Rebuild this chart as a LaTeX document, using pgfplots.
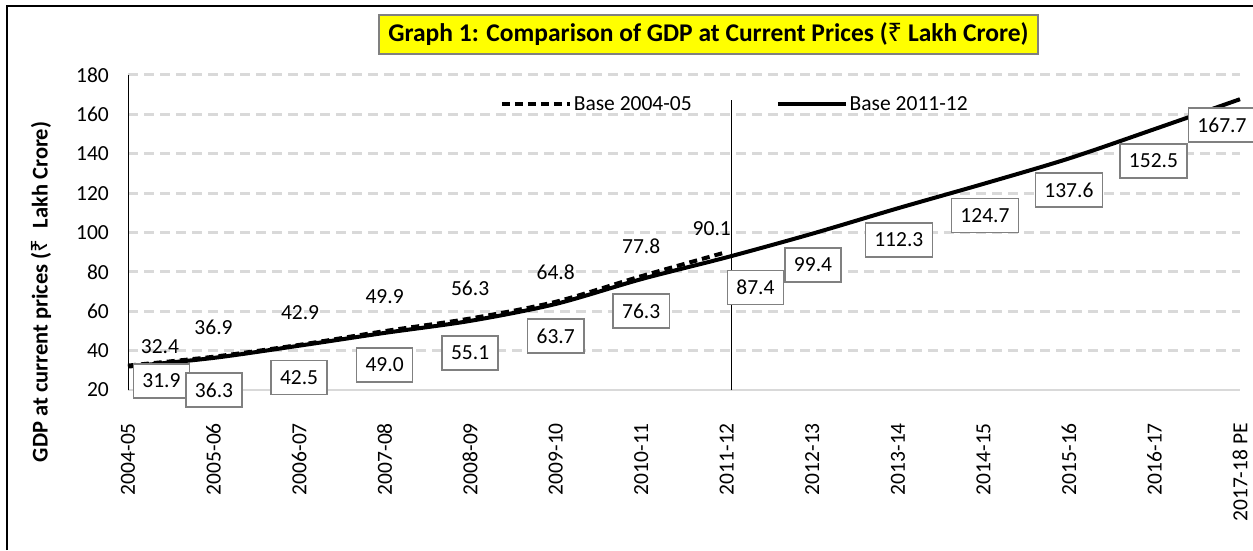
\documentclass[border=0pt]{standalone}
\usepackage{fontspec}
\setmainfont{Carlito}
\newfontfamily\rupeefont{Noto Sans}
\newcommand\rupee{{\rupeefont ₹}}
\usepackage{pgfplots}
\usepackage{pgfplotstable}
\pgfplotsset{compat=1.18}
\definecolor{gridgray}{HTML}{D9D9D9}
\definecolor{boxgray}{HTML}{808080}
\definecolor{titleyellow}{HTML}{FFFF00}
\newcommand\lblfont{\fontsize{21.5}{25}\selectfont}

\pgfplotstableread{
x y lbl dx dy
0 32.4 32.4 32 18.6
1 36.9 36.9 0 29.7
2 42.9 42.9 1 32
3 49.9 49.9 0 35
4 56.3 56.3 0 30.5
5 64.8 64.8 0 29.8
6 77.8 77.8 0 30
7 90.1 90.1 -15 23
}\olddata

\pgfplotstableread{
x y lbl dx dy
0 31.9 31.9 33.5 -14.4
1 36.3 36.3 0.5 -32.1
2 42.5 42.5 0 -31.8
3 49.0 49.0 0 -32.1
4 55.1 55.1 0 -32.1
5 63.7 63.7 0 -32
6 76.3 76.3 0 -31.9
7 87.4 87.4 28.7 -30.2
8 99.4 99.4 0.7 -31.3
9 112.3 112.3 1 -31.7
10 124.7 124.7 1.6 -31.7
11 137.6 137.6 0 -31.6
12 152.5 152.5 -1 -31.9
13 167.7 167.7 -18 -25.8
}\newdata

\begin{document}
\begin{tikzpicture}[x=1pt,y=1pt]
\useasboundingbox (0,0) rectangle (1253,550);
\fill[white] (0,0) rectangle (1253,550);
\draw[line width=1.8pt, black] (7,0) -- (7,544.3) -- (1253.5,544.3);
\begin{axis}[
  at={(128pt,160pt)}, anchor=south west,
  scale only axis, width=1112pt, height=315pt,
  xmin=0, xmax=13, ymin=20, ymax=180,
  xtick={0,...,13},
  xticklabels={2004-05,2005-06,2006-07,2007-08,2008-09,2009-10,2010-11,2011-12,2012-13,2013-14,2014-15,2015-16,2016-17,2017-18 PE},
  xticklabel style={rotate=90, anchor=east, inner sep=0pt, font=\lblfont},
  xticklabel shift=33pt,
  ytick={40,60,...,180},
  extra y ticks={20},
  extra y tick style={grid=none},
  yticklabel style={anchor=east, inner sep=0pt, font=\lblfont},
  yticklabel shift=19pt,
  /pgf/number format/assume math mode=true,
  ymajorgrids,
  grid style={dash pattern=on 10pt off 6pt, line width=3pt, color=gridgray},
  axis x line*=bottom, axis y line*=left,
  x axis line style={-, gridgray, line width=2pt},
  y axis line style={-, black, line width=1pt},
  major tick length=0pt,
  clip=false,
  legend columns=2,
  legend style={draw=none, fill=none, at={(0.3315,0.908)}, anchor=west,
    font=\lblfont,
    /tikz/every even column/.append style={column sep=82pt}},
  legend image code/.code={\draw[#1] (0pt,0pt) -- (68pt,0pt);},
]
\addlegendimage{black, line width=4pt, dash pattern=on 8pt off 5pt}
\addlegendentry{Base 2004-05}
\addlegendimage{black, line width=4pt}
\addlegendentry{Base 2011-12}

% separator line
\addplot[black, line width=1pt, forget plot] coordinates {(7.05,20) (7.05,167.3)};

% series lines
\addplot[black, line width=4pt, smooth, tension=0.5, forget plot] table[x=x,y=y] {\newdata};
\addplot[black, line width=4pt, smooth, tension=0.5, dash pattern=on 8pt off 5pt, forget plot] table[x=x,y=y] {\olddata};

% labels
\addplot[draw=none, mark=none, forget plot,
  point meta=explicit symbolic,
  visualization depends on={\thisrow{dx} \as \dx},
  visualization depends on={\thisrow{dy} \as \dy},
  nodes near coords,
  nodes near coords style={anchor=center, xshift=\dx*1pt, yshift=\dy*1pt, text=black,
    font=\lblfont, inner sep=0pt}
] table[x=x,y=y,meta=lbl] {\olddata};

\addplot[draw=none, mark=none, forget plot,
  point meta=explicit symbolic,
  visualization depends on={\thisrow{dx} \as \dx},
  visualization depends on={\thisrow{dy} \as \dy},
  nodes near coords,
  nodes near coords style={anchor=center, xshift=\dx*1pt, yshift=\dy*1pt, text=black,
    draw=boxgray, line width=1.5pt, fill=white, inner xsep=9pt, inner ysep=0pt,
    minimum height=34pt, font=\lblfont}
] table[x=x,y=y,meta=lbl] {\newdata};
\end{axis}

\node[fill=titleyellow, draw=boxgray, line width=1.5pt, minimum width=659pt, minimum height=39pt,
  inner sep=0pt, font=\fontsize{25.5}{29}\selectfont\bfseries] at (708.5,515.5)
  {Graph 1: Comparison of GDP at Current Prices (\rupee{} Lakh Crore)};

\node[rotate=90, font=\fontsize{22.5}{26}\selectfont\bfseries] at (41,258)
  {GDP at current prices (\rupee{}\enspace Lakh Crore)};
\end{tikzpicture}
\end{document}
